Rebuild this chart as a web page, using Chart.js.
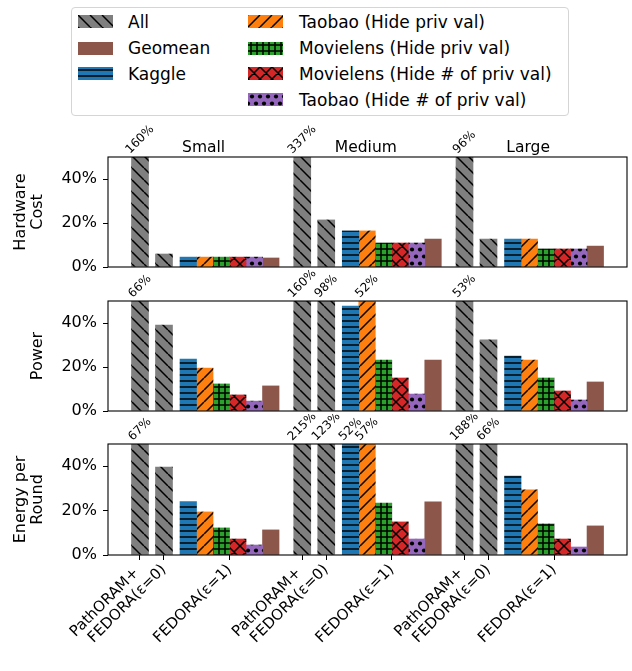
<!DOCTYPE html>
<html><head><meta charset="utf-8">
<script src="https://cdn.jsdelivr.net/npm/chart.js@4.4.1/dist/chart.umd.min.js"></script>
<style>
html,body{margin:0;padding:0;background:#fff;}
body{width:632px;height:671px;position:relative;overflow:hidden;font-family:"DejaVu Sans",sans-serif;}
canvas.c{position:absolute;left:0;}
#legend{position:absolute;left:71px;top:7px;width:498px;height:109px;border:1px solid #d5d5d5;border-radius:4px;box-sizing:border-box;}
.sw{position:absolute;}
.lt{position:absolute;font-size:17px;line-height:20px;height:20px;color:#000;white-space:nowrap;}
</style></head><body>
<div id="legend"></div>
<canvas id="c0" class="c" width="632" height="160" style="top:120px"></canvas>
<canvas id="c1" class="c" width="632" height="154" style="top:270px"></canvas>
<canvas id="c2" class="c" width="632" height="257" style="top:414px"></canvas>
<script>
// ---------------- data ----------------
const groups = ['Small', 'Medium', 'Large'];
const xTickText = ['PathORAM+ ', 'FEDORA(ε=0)', 'FEDORA(ε=1)'];
const seriesNames = ['All', 'Geomean', 'Kaggle', 'Taobao (Hide priv val)', 'Movielens (Hide priv val)', 'Movielens (Hide # of priv val)', 'Taobao (Hide # of priv val)'];
const metricTitles = [['Hardware', 'Cost'], ['Power'], ['Energy per', 'Round']];
const yTickValues = [0, 20, 40];

// Hardware cost (%)
const hwPathORAM   = [160, 337, 96];
const hwEps0       = [5.9, 21.4, 12.7];
const hwKaggle     = [4.5, 16.4, 12.7];
const hwTaobao     = [4.5, 16.4, 12.7];
const hwMovielens  = [4.5, 10.9, 8.2];
const hwMovielensN = [4.5, 10.9, 8.2];
const hwTaobaoN    = [4.5, 10.9, 8.2];
const hwGeomean    = [4.1, 12.7, 9.5];

// Power (%)
const pwPathORAM   = [66, 160, 53];
const pwEps0       = [39.1, 98, 32.3];
const pwKaggle     = [23.6, 47.7, 25.0];
const pwTaobao     = [19.5, 52, 23.2];
const pwMovielens  = [12.3, 23.2, 15.0];
const pwMovielensN = [7.3, 15.0, 9.1];
const pwTaobaoN    = [4.5, 7.7, 5.0];
const pwGeomean    = [11.4, 23.2, 13.2];

// Energy per round (%)
const enPathORAM   = [67, 215, 188];
const enEps0       = [39.6, 123, 66];
const enKaggle     = [23.9, 52, 35.6];
const enTaobao     = [19.4, 57, 29.3];
const enMovielens  = [12.2, 23.4, 14.0];
const enMovielensN = [7.2, 14.9, 7.2];
const enTaobaoN    = [4.5, 7.2, 3.6];
const enGeomean    = [11.3, 23.9, 13.1];

// --------------- styles ---------------
const FONT = '"DejaVu Sans", sans-serif';
const styles = {
  'All': {color: '#7f7f7f', hatch: 'bslash'},
  'Geomean': {color: '#8c564b', hatch: 'none'},
  'Kaggle': {color: '#1f77b4', hatch: 'hline'},
  'Taobao (Hide priv val)': {color: '#ff7f0e', hatch: 'slash'},
  'Movielens (Hide priv val)': {color: '#2ca02c', hatch: 'plus'},
  'Movielens (Hide # of priv val)': {color: '#d62728', hatch: 'cross'},
  'Taobao (Hide # of priv val)': {color: '#9467bd', hatch: 'dots'}
};

function makePattern(color, type) {
  if (type === 'none') return color;
  const c = document.createElement('canvas');
  let w = 12, h = 12;
  if (type === 'hline' || type === 'plus') { w = 6; h = 6; }
  if (type === 'dots') { w = 8; h = 14; }
  c.width = w; c.height = h;
  const g = c.getContext('2d');
  g.fillStyle = color; g.fillRect(0, 0, w, h);
  g.strokeStyle = '#000'; g.fillStyle = '#000';
  g.lineWidth = 1.5;
  g.beginPath();
  if (type === 'bslash' || type === 'cross') {
    for (const k of [-w, 0, w]) { g.moveTo(k, 0); g.lineTo(k + w, h); }
  }
  if (type === 'slash' || type === 'cross') {
    for (const k of [-w, 0, w]) { g.moveTo(k, h); g.lineTo(k + w, 0); }
  }
  if (type === 'hline' || type === 'plus') {
    g.moveTo(0, 3); g.lineTo(w, 3);
  }
  if (type === 'plus') {
    g.moveTo(3, 0); g.lineTo(3, h);
  }
  g.stroke();
  if (type === 'dots') {
    const pts = [[4, 3.5], [0, 10.5], [8, 10.5]];
    for (const [px, py] of pts) { g.beginPath(); g.arc(px, py, 2.1, 0, Math.PI * 2); g.fill(); }
  }
  return g.createPattern(c, 'repeat');
}

// --------------- legend ---------------
(function buildLegend() {
  const lg = document.getElementById('legend');
  const col1 = ['All', 'Geomean', 'Kaggle'];
  const col2 = ['Taobao (Hide priv val)', 'Movielens (Hide priv val)', 'Movielens (Hide # of priv val)', 'Taobao (Hide # of priv val)'];
  const rowCenters = [13.5, 40, 65.5, 91.5];
  const place = (name, row, swx, tx) => {
    const cv = document.createElement('canvas');
    cv.width = 35; cv.height = 13; cv.className = 'sw';
    cv.style.left = swx + 'px'; cv.style.top = (rowCenters[row] - 6.5) + 'px';
    const g = cv.getContext('2d');
    g.fillStyle = makePattern(styles[name].color, styles[name].hatch);
    g.fillRect(0, 0, 35, 13);
    lg.appendChild(cv);
    const t = document.createElement('div');
    t.className = 'lt'; t.textContent = name;
    t.style.left = tx + 'px'; t.style.top = (rowCenters[row] - 10) + 'px';
    lg.appendChild(t);
  };
  col1.forEach((n, i) => place(n, i, 6, 56));
  col2.forEach((n, i) => place(n, i, 176, 227));
})();

// --------------- charts ---------------
const GROUP_STEP = 6.76;
const COLORED_OFFSET = 3.73;
const CBW = 0.6875;
const X_MIN = -1.333, X_MAX = 20.29;
const gx = i => i * GROUP_STEP;

function buildDatasets(vals) {
  const ds = [];
  const allPts = [];
  groups.forEach((g, i) => {
    allPts.push({x: gx(i), y: vals.pathoram[i]});
    allPts.push({x: gx(i) + 1, y: vals.eps0[i]});
  });
  ds.push({label: 'All', data: allPts, backgroundColor: makePattern(styles['All'].color, styles['All'].hatch), barThickness: 17});
  const colored = [
    ['Kaggle', vals.kaggle],
    ['Taobao (Hide priv val)', vals.taobao],
    ['Movielens (Hide priv val)', vals.movielens],
    ['Movielens (Hide # of priv val)', vals.movielensN],
    ['Taobao (Hide # of priv val)', vals.taobaoN],
    ['Geomean', vals.geomean]
  ];
  colored.forEach(([name, arr], k) => {
    ds.push({
      label: name,
      data: groups.map((g, i) => ({x: gx(i) + COLORED_OFFSET + (k - 2.5) * CBW, y: arr[i]})),
      backgroundColor: makePattern(styles[name].color, styles[name].hatch),
      barThickness: 16.5
    });
  });
  return ds;
}

const framePlugin = {
  id: 'frame',
  afterDatasetsDraw(chart) {
    const {ctx, chartArea: a} = chart;
    ctx.save();
    ctx.strokeStyle = '#000'; ctx.lineWidth = 1.1;
    ctx.strokeRect(a.left, a.top, a.right - a.left, a.bottom - a.top);
    ctx.restore();
  }
};

const overflowLabels = {
  id: 'overflowLabels',
  afterDraw(chart) {
    const {ctx, chartArea: a} = chart;
    const ymax = chart.scales.y.max;
    const xs = chart.scales.x;
    ctx.save();
    ctx.font = '12px ' + FONT;
    ctx.fillStyle = '#000';
    ctx.textAlign = 'center'; ctx.textBaseline = 'middle';
    chart.data.datasets.forEach(d => {
      d.data.forEach(p => {
        if (p.y > ymax) {
          const txt = Math.round(p.y) + '%';
          const w = ctx.measureText(txt).width, h = 12;
          const bb = (w + h) * Math.SQRT1_2;
          const cx = xs.getPixelForValue(p.x);
          const cy = a.top - 1 - bb / 2;
          ctx.save();
          ctx.translate(cx, cy); ctx.rotate(-Math.PI / 4);
          ctx.fillText(txt, 0, 0);
          ctx.restore();
        }
      });
    });
    ctx.restore();
  }
};

const groupTitles = {
  id: 'groupTitles',
  afterDraw(chart) {
    if (!chart.options.plugins.groupTitles || !chart.options.plugins.groupTitles.show) return;
    const {ctx, chartArea: a} = chart;
    const xs = chart.scales.x;
    ctx.save();
    ctx.font = '15.5px ' + FONT;
    ctx.fillStyle = '#000';
    ctx.textAlign = 'center'; ctx.textBaseline = 'middle';
    groups.forEach((g, i) => ctx.fillText(g, xs.getPixelForValue(gx(i) + 2.65), a.top - 9));
    ctx.restore();
  }
};

function makeChart(id, idx, vals, cfg) {
  const xTicks = [];
  groups.forEach((g, i) => { xTicks.push(gx(i), gx(i) + 1, gx(i) + COLORED_OFFSET); });
  const xScale = cfg.showX ? {
    type: 'linear', min: X_MIN, max: X_MAX, offset: false,
    afterBuildTicks: s => { s.ticks = xTicks.map(v => ({value: v})); },
    afterFit: s => { s.height = cfg.xHeight; },
    ticks: {autoSkip: false, maxRotation: 45, minRotation: 45, padding: 3, color: '#000',
      font: {family: FONT, size: 15, lineHeight: 0.8}, callback: (v, i) => xTickText[i % 3]},
    grid: {display: true, drawOnChartArea: false, drawTicks: true, tickLength: 5, color: '#000', lineWidth: 1, offset: false},
    border: {display: false}
  } : {type: 'linear', min: X_MIN, max: X_MAX, offset: false, display: false};
  return new Chart(document.getElementById(id), {
    type: 'bar',
    data: {datasets: buildDatasets(vals)},
    options: {
      responsive: false, animation: false, devicePixelRatio: 1,
      layout: {padding: {top: cfg.padTop, bottom: cfg.padBottom, left: 0, right: 5}},
      datasets: {bar: {grouped: false, borderWidth: 0}},
      plugins: {legend: {display: false}, tooltip: {enabled: false}, groupTitles: {show: !!cfg.titles}},
      scales: {
        x: xScale,
        y: {
          min: 0, max: 50,
          afterBuildTicks: s => { s.ticks = yTickValues.map(v => ({value: v})); },
          afterFit: s => { s.width = 108; s.paddingTop = 0; s.paddingBottom = 0; },
          ticks: {callback: v => v + '%', color: '#000', padding: 6, font: {family: FONT, size: 16}},
          grid: {display: true, drawOnChartArea: false, drawTicks: true, tickLength: 5, color: '#000', lineWidth: 1},
          border: {display: false},
          title: {display: true, text: metricTitles[idx], color: '#000',
            font: {family: FONT, size: 16, lineHeight: 1.05}, padding: {top: cfg.titlePad, bottom: 0}}
        }
      }
    },
    plugins: [framePlugin, overflowLabels, groupTitles]
  });
}

makeChart('c0', 0, {pathoram: hwPathORAM, eps0: hwEps0, kaggle: hwKaggle, taobao: hwTaobao,
  movielens: hwMovielens, movielensN: hwMovielensN, taobaoN: hwTaobaoN, geomean: hwGeomean},
  {padTop: 37, padBottom: 13, titlePad: 12.6, titles: true});
makeChart('c1', 1, {pathoram: pwPathORAM, eps0: pwEps0, kaggle: pwKaggle, taobao: pwTaobao,
  movielens: pwMovielens, movielensN: pwMovielensN, taobaoN: pwTaobaoN, geomean: pwGeomean},
  {padTop: 31, padBottom: 13, titlePad: 29.4});
makeChart('c2', 2, {pathoram: enPathORAM, eps0: enEps0, kaggle: enKaggle, taobao: enTaobao,
  movielens: enMovielens, movielensN: enMovielensN, taobaoN: enTaobaoN, geomean: enGeomean},
  {padTop: 30, padBottom: 0, titlePad: 12.6, showX: true, xHeight: 116});
</script>
</body></html>
